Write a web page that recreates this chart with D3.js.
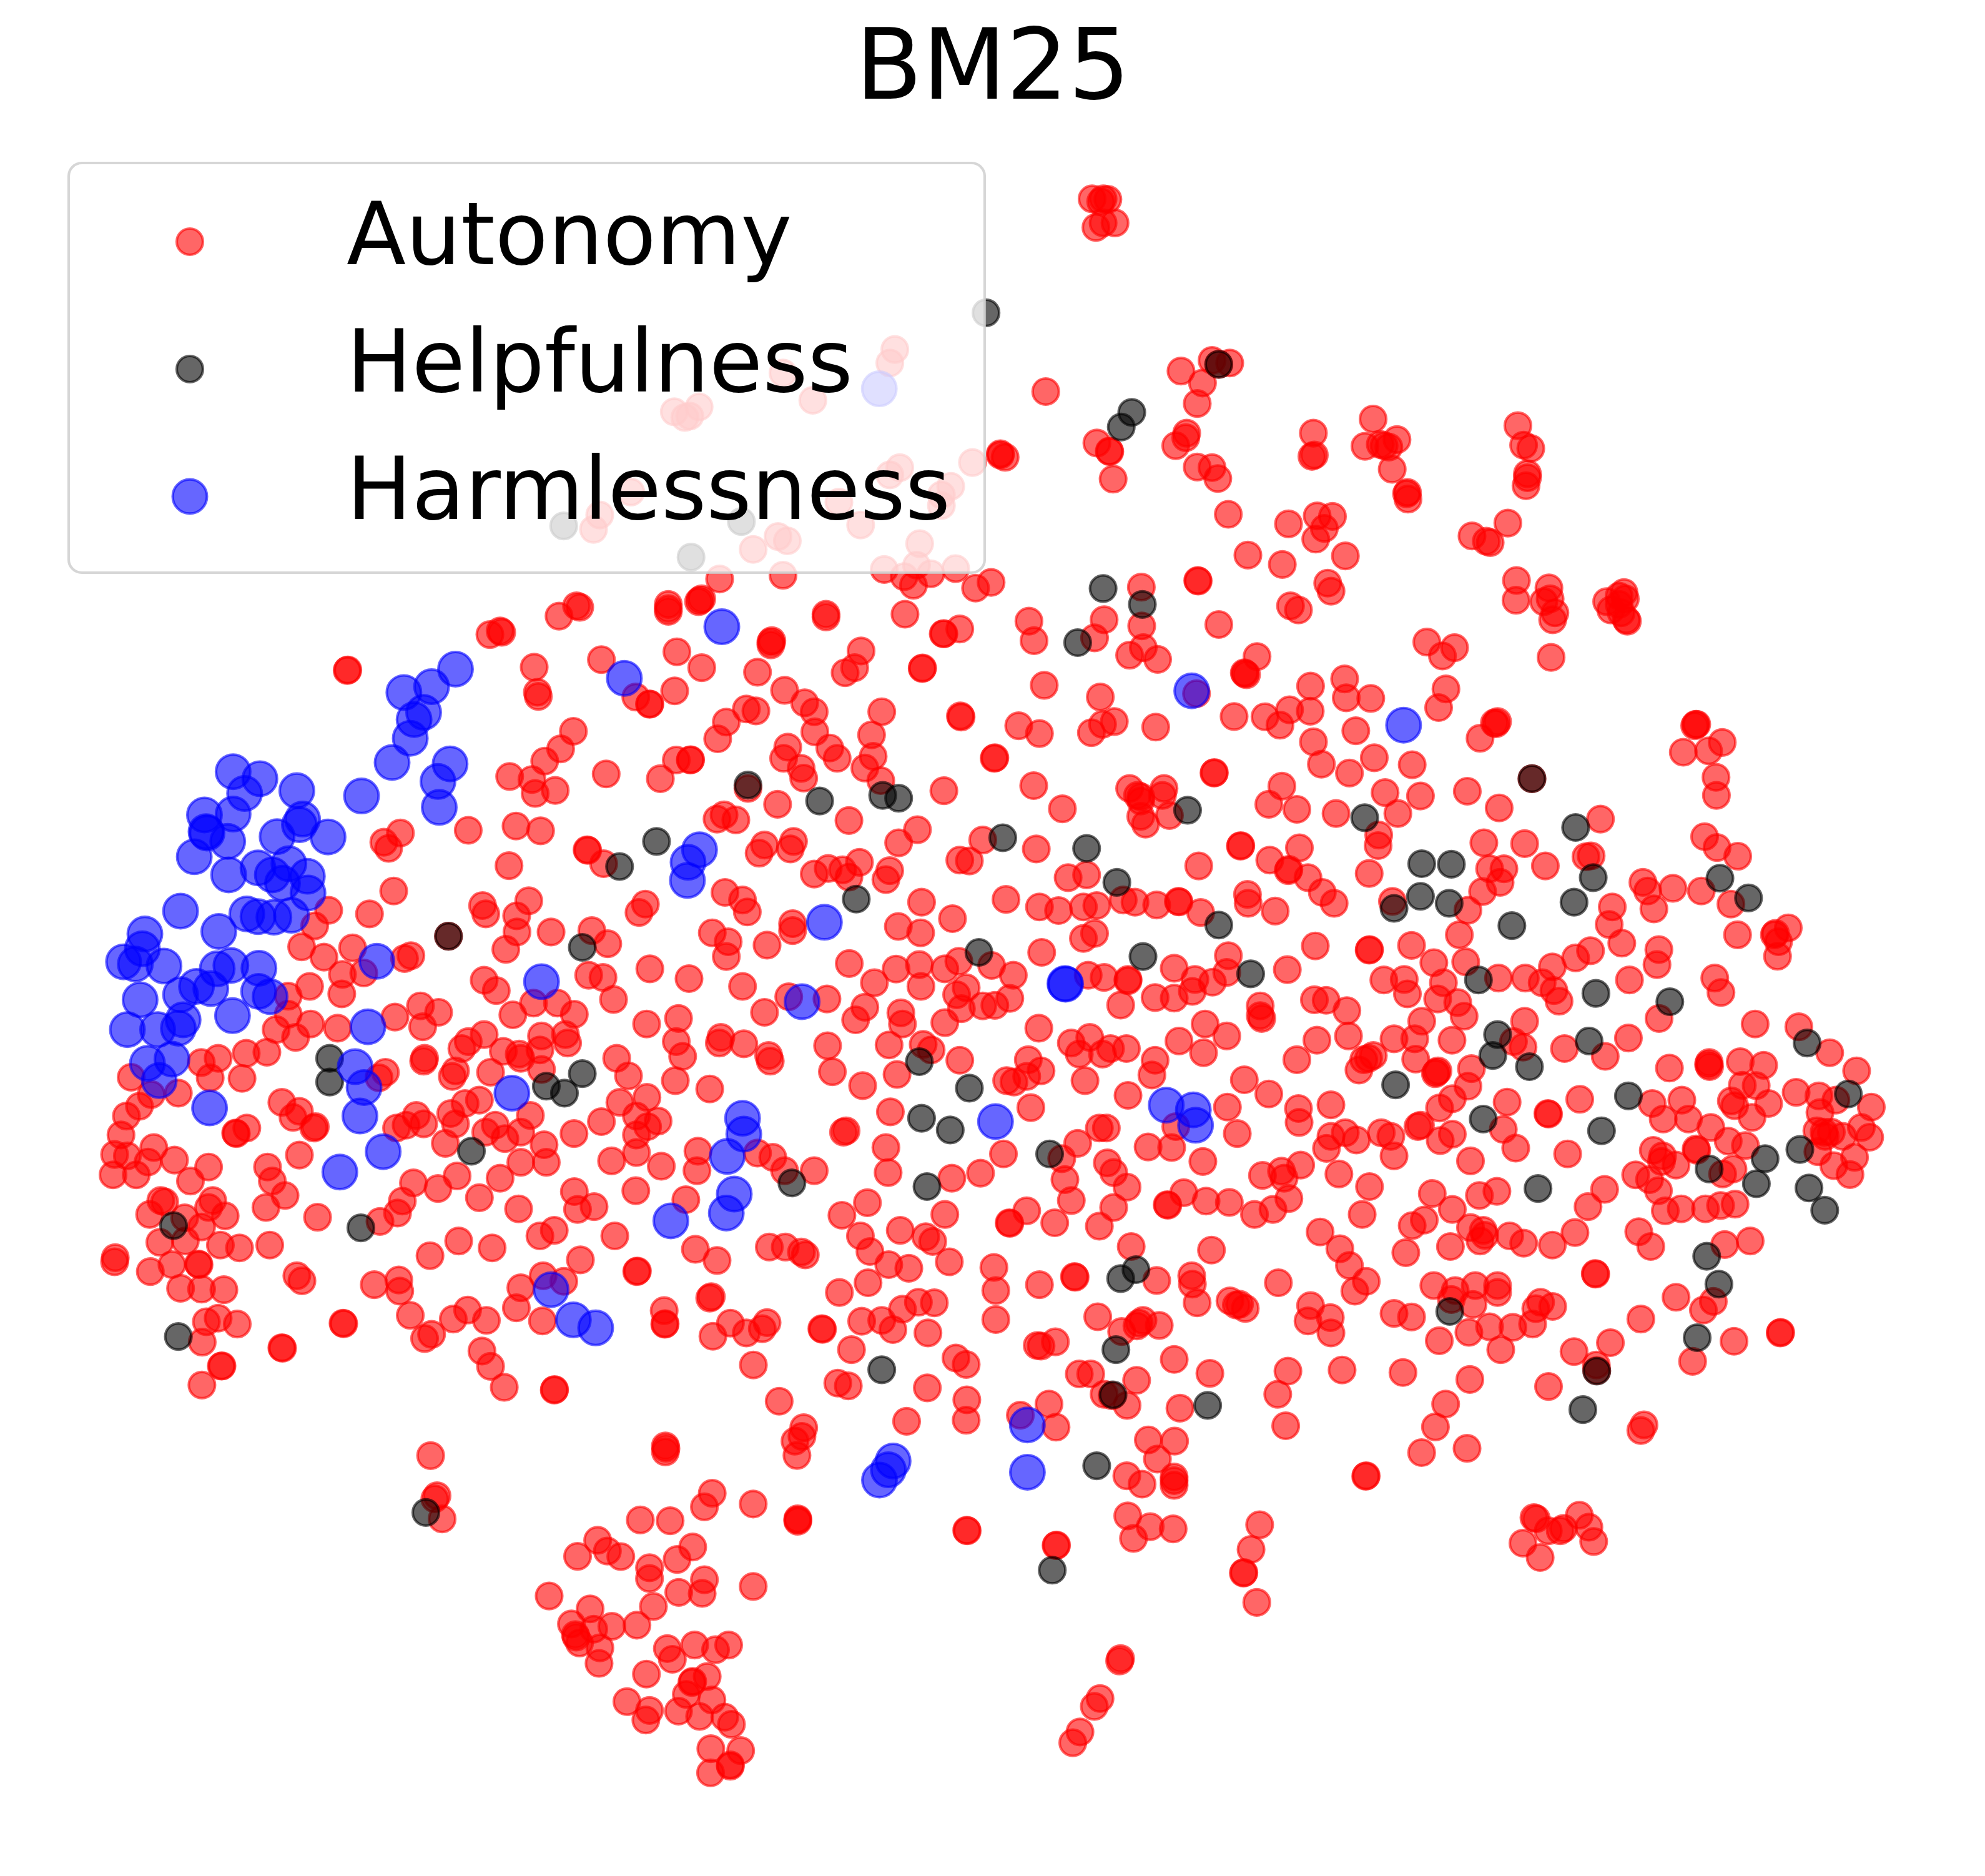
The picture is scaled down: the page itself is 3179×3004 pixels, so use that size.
<!DOCTYPE html>
<html><head><meta charset="utf-8">
<script src="https://cdn.jsdelivr.net/npm/d3@7"></script>
<style>html,body{margin:0;padding:0;background:#fff}svg{display:block}text{font-family:"DejaVu Sans";fill:#000}</style>
</head><body><div id="chart"></div>
<script>
const chartTitle = "BM25";
const seriesNames = ["Autonomy", "Helpfulness", "Harmlessness"];

// Values, sheet by sheet (reading grid 0-1568 on each sheet).
const autonomyA = [[1360,718],[1352,765],[1180,800],[1228,895],[1005,935],[1022,955],[1045,918],[1030,950],[1368,1130],[1352,1155],[1485,1112],[1450,1195],[1435,1225],[1435,1262],[1270,1250],[935,1215],[885,1295],[875,1345],[1305,1330],[1172,1370],[1187,1385],[1132,1415],[1400,1395],[1343,1485],[1375,1510],[1395,1470],[1418,1500],[1458,1482],[1078,1518],[1180,1505],[1390,1540],[1490,1550],[1515,1530]];
const helpfulnessA = [[827,1333],[1113,1318],[1032,1442]];
const harmlessnessA = [[1335,855]];

const autonomyB = [[835,277],[837,275],[1283,148],[1315,135],[1320,140],[1500,82],[1555,45],[1565,50],[1422,265],[1432,355],[1435,370],[1545,495],[1505,558],[1455,602],[1345,657],[1415,668],[1425,718],[1488,707],[1365,835],[1442,852],[1215,850],[1002,860],[950,893],[965,915],[1343,977],[981,1068],[905,1150],[777,1137],[733,1193],[692,1268],[762,1305],[852,1272],[887,1362],[820,1367],[818,1437],[717,1410],[650,1445],[650,1510],[612,1565],[720,1545],[805,1560],[1015,1310],[1035,1300],[1153,1230],[1260,1120],[1270,1150],[1405,1103],[1367,1157],[1368,1215],[1475,1215],[1333,1277],[1265,1388],[1303,1425],[1420,1470],[1495,1470],[1355,1512],[1548,1510],[985,1520],[1065,1480],[1122,1503],[1072,1555]];
const helpfulnessB = [[1153,1230]];
const harmlessnessB = [[1175,272],[1100,335],[1013,356],[1075,427],[1045,453],[1033,520],[976,607],[880,727],[1158,612],[1120,675],[1124,768],[477,640],[561,665],[513,718],[677,708],[477,792],[387,795],[392,855],[395,860],[460,890],[355,945],[695,810],[685,830],[775,874],[615,873],[463,1010],[555,985],[652,970],[600,1010],[632,1040],[710,1015],[712,1075],[520,1150],[555,1160],[605,1162],[660,1155],[312,1140],[432,1213],[200,1222],[192,1275],[133,1322],[170,1330],[260,1337],[427,1347],[470,1335],[558,1345],[362,1410],[407,1418],[312,1440],[185,1458],[557,1428],[593,1447],[475,1515],[145,1565],[240,1565],[305,1560],[320,1530],[928,1320],[1445,1393],[900,1555]];

const autonomyC = [[673,25],[157,168],[220,230],[305,225],[183,272],[142,307],[125,375],[105,445],[145,450],[228,420],[210,472],[293,465],[100,518],[173,518],[400,490],[343,540],[377,115],[430,100],[405,170],[518,82],[583,78],[505,172],[630,258],[685,290],[665,312],[730,350],[735,345],[520,350],[487,370],[485,368],[685,447],[585,490],[600,540],[640,592],[580,635],[742,670],[592,770],[250,610],[262,615],[413,610],[400,635],[215,660],[325,672],[452,665],[378,705],[247,760],[327,755],[437,770],[497,780],[107,815],[105,830],[285,840],[217,865],[370,840],[368,838],[312,925],[378,928],[448,930],[677,880],[693,898],[920,912],[997,895],[1000,935],[1033,1022],[1213,1003],[1168,1035],[1272,1040],[1078,1105],[1100,1090],[1258,1150],[1285,1205],[1328,1280],[1485,1290],[1486,1288],[1097,1525],[822,1050],[824,1052],[632,1140],[630,1138],[442,1203],[440,1204],[379,1272],[393,1045],[430,1032],[490,1053],[380,1118],[938,685],[993,655],[1008,612],[1043,547],[1120,567],[1180,522],[1250,600],[1315,530],[1373,640],[1380,473],[1460,473],[1453,410],[1440,737],[1485,717],[1548,578],[1558,642],[1567,823],[1450,880],[1515,900],[1380,923],[1366,995],[1448,1042],[1185,755],[1290,780],[1095,808],[935,170],[955,150],[1195,65],[1215,40],[1265,15],[1175,145],[1165,165],[1285,150],[1325,75],[1375,85],[1380,100],[1440,70],[1445,140],[1250,250],[1205,262],[1160,298],[1175,335],[1143,405],[1052,305],[1075,335],[990,350],[1020,340],[1270,365],[1300,340],[1330,388],[1380,365],[1410,305],[1547,370],[1078,100],[1075,110],[1445,20],[1520,15],[1527,45],[1117,1669],[1110,1680],[1133,1752]];
const helpfulnessC = [[780,100],[780,185],[290,700],[878,708],[1225,433],[305,1098],[1460,200],[1517,225],[1082,1729]];
const harmlessnessC = [[208,118],[285,103],[245,180],[403,278],[860,130],[888,205],[875,307],[948,435],[812,508],[1352,225],[1475,930],[1545,1038]];

const autonomyD = [[275,40],[275,55],[275,65],[375,25],[380,20],[370,30],[770,75],[770,85],[1018,75],[1138,145],[1140,145],[1190,128],[1407,100],[1423,170],[600,170],[597,185],[597,175],[880,207],[860,267],[830,285],[1072,270],[1073,268],[1455,330],[65,238],[302,210],[380,267],[295,350],[555,283],[173,372],[217,397],[216,398],[640,348],[703,393],[733,425],[735,497],[782,555],[805,592],[945,425],[913,508],[918,585],[892,627],[942,672],[1192,440],[1194,444],[1375,475],[1440,503],[1298,592],[1300,590],[1422,690],[1512,773],[520,415],[550,422],[457,462],[430,522],[300,598],[345,597],[344,598],[80,648],[250,665],[650,552],[637,592],[692,628],[700,663],[525,700],[618,757],[842,815],[1140,708],[428,810],[450,795],[487,813],[20,920],[22,922],[72,970],[577,903],[560,932],[668,890],[658,917],[733,1007],[777,987],[822,992],[875,965],[842,1018],[998,895],[1057,848],[970,995],[958,1027],[1190,957],[1220,960],[1262,885],[1430,917],[1530,1020],[453,1073],[508,1100],[523,1143],[203,1115],[183,1145],[1070,1108],[1335,1098],[1440,1125],[1500,1138],[997,1195],[1067,1218],[1167,1167],[35,1210],[85,1257],[413,1218],[463,1250],[457,1303],[585,1262],[665,1185],[665,1210],[25,1370],[70,1378],[217,1347],[340,1382],[103,1457],[843,1328],[990,1348],[1063,1332],[1143,1347],[1187,1320],[1290,1335],[1358,1370],[1447,1288],[1068,1410],[922,1397],[1180,1440],[1210,1415],[1262,1480],[1300,1478],[1347,1453],[1195,1490],[508,1410],[653,1447],[773,1455],[892,1485],[1005,1505],[1010,1545],[863,1530],[1143,1540],[1438,1560],[577,1503],[307,1525],[207,1545]];
const helpfulnessD = [[1560,177],[525,688],[750,745],[948,725],[998,735],[238,890],[122,980],[865,1097],[1325,877],[1250,1288],[5,1270]];
const harmlessnessD = [[443,120],[137,305],[373,920],[337,965],[335,1030],[765,1180],[695,1465],[1520,1400],[1522,1402]];

const autonomyE = [[300,40],[320,93],[113,100],[150,163],[297,180],[405,210],[435,45],[440,25],[512,48],[590,90],[595,110],[775,55],[790,148],[885,198],[968,52],[993,158],[1075,50],[1100,70],[1190,107],[208,240],[123,258],[175,307],[65,327],[243,325],[210,345],[175,375],[175,438],[97,468],[253,487],[368,433],[365,503],[173,575],[330,607],[972,292],[958,420],[965,510],[833,360],[825,365],[1165,530],[1255,512],[1327,443],[555,440],[603,455],[640,503],[733,503],[1337,180],[1360,185],[1405,105],[1400,165],[1445,145],[1413,277],[1540,45],[1565,85],[1560,405],[1510,460],[1520,535],[1540,610],[42,632],[107,737],[178,863],[176,865],[360,785],[428,825],[592,777],[642,777],[693,795],[705,805],[820,663],[900,618],[878,737],[908,793],[967,840],[1030,853],[902,905],[812,940],[1003,717],[1083,740],[1105,757],[1143,660],[1157,830],[1345,690],[1347,692],[1400,647],[1488,690],[1297,850],[1303,933],[1303,1037],[1440,912],[1550,883],[1552,885],[405,960],[410,955],[262,1005],[265,1052],[264,1054],[470,1050],[415,1097],[520,1085],[570,1070],[585,1048],[757,1070],[759,1072],[542,1200],[882,1043],[945,1040],[1010,1000],[1060,975],[1110,977],[980,1073],[1090,1085],[850,1145],[1178,1175],[1210,1198],[1433,1130],[1445,1132],[1490,1117],[1565,1232],[807,1265],[840,1275],[1088,1282],[1212,1325],[1210,1398],[1023,1402],[1470,1340],[1380,1380],[1492,1423],[623,1330],[700,1425]];
const helpfulnessE = [[5,155],[1063,112],[1220,207],[1070,315],[1160,357],[1472,443],[663,547],[1087,560],[945,1217]];
const harmlessnessE = [[508,315],[512,372],[460,452],[482,587],[457,655],[283,683],[47,1067],[1302,327],[1402,1415]];

const autonomyF = [[247,90],[280,92],[265,100],[270,90],[255,197],[295,180],[270,180],[433,735],[498,695],[535,705],[512,710],[478,780],[467,857],[150,812],[257,1005],[283,1035],[284,1037],[291,1140],[55,1050],[65,1058],[55,1045],[445,968],[443,985],[422,1015],[467,1095],[498,1097],[510,1138],[710,968],[712,1050],[707,1055],[835,915],[885,992],[818,1017],[850,1010],[858,1015],[868,1020],[875,1103],[907,1190],[908,1215],[905,1195],[532,1272],[658,1308],[718,1278],[750,1280],[733,1325],[715,1365],[573,1425],[645,1460],[777,1428],[1138,940],[1150,1013],[1165,1025],[1158,1120],[1158,1135],[1155,1165],[1117,1305],[1042,1353],[1072,1373],[1080,1378],[468,1520],[469,1522],[740,1530],[747,1560],[1135,1520],[1203,1548],[1360,1565],[350,1545]];
const helpfulnessF = [[25,517],[512,710],[330,890],[308,945],[270,1550]];

const autonomyG = [[75,95],[45,160],[193,117],[198,195],[155,222],[243,237],[435,112],[660,45],[685,60],[555,227],[515,285],[522,292],[517,288],[1088,175],[1175,195],[1137,225],[1148,343],[1125,410],[1368,25],[1455,30],[1475,20],[1490,70],[1483,95],[1478,230],[1255,520],[1300,465],[1310,460],[1305,468],[723,333],[830,307],[835,375],[912,377],[722,423],[657,418],[580,443],[627,473],[483,442],[865,493],[732,533],[757,613],[845,645],[923,590],[1042,615],[957,715],[1068,727],[997,790],[1215,710],[1315,770],[63,372],[365,360],[107,460],[70,470],[35,500],[237,480],[420,645],[421,643],[155,700],[263,700],[180,725],[190,730],[258,725],[190,745],[190,800],[205,828],[280,797],[633,692],[592,757],[680,775],[803,790],[937,867],[935,905],[907,1005],[503,907],[504,905],[595,957],[688,913],[655,990],[653,995],[715,1020],[760,1073],[797,1112],[372,978],[525,1080],[527,1112],[612,1140],[20,1010],[52,1120],[10,1125],[135,1100],[172,1108],[240,1118],[308,1105],[310,1107],[378,1145],[980,1105],[1217,1137],[1190,1225],[1267,895],[1395,898],[1460,978],[1285,988],[1330,988],[1318,1037],[1263,1070],[45,1220],[10,1238],[738,1265],[907,1280],[908,1278],[1040,1263],[1110,1325],[1210,1322],[465,1300],[295,1345],[360,1385],[415,1395],[460,1360],[650,1350],[150,1385],[150,1390],[75,1378],[25,1370],[953,1387],[1017,1385],[1027,1437],[1140,1397],[1122,1455],[1185,1468],[1205,1517],[1313,1380],[1397,1380],[1450,1397],[1482,1340],[1555,1308],[1487,1425],[1503,1463],[127,1477],[235,1450],[295,1452],[352,1428],[565,1480],[565,1515],[570,1525],[735,1458],[772,1460],[837,1497],[392,1545],[1072,1535],[1395,1535],[1418,665]];
const helpfulnessG = [[195,40],[337,778],[20,915],[115,1037],[435,1190],[197,1303],[535,1365],[1250,1387],[893,805],[1072,970],[1165,972],[1068,1087],[1158,1112],[985,1130],[1355,1192],[1418,665],[1555,840],[1550,1108]];
const harmlessnessG = [[350,350],[1015,473]];

const autonomyH = [[30,25],[70,85],[95,65],[145,65],[15,180],[235,107],[225,160],[150,233],[310,38],[387,80],[460,20],[515,177],[592,228],[680,105],[743,35],[842,20],[462,275],[493,370],[300,345],[287,420],[213,418],[385,470],[60,350],[82,350],[685,280],[687,330],[787,267],[787,380],[832,367],[867,393],[773,423],[945,367],[975,380],[985,450],[812,515],[908,560],[885,660],[1060,345],[1068,340],[1130,395],[1168,372],[1128,278],[1168,245],[1217,200],[1228,137],[1340,257],[1328,355],[1367,422],[1225,468],[1468,298],[1470,300],[1530,443],[875,142],[890,105],[905,100],[920,90],[985,30],[1050,30],[1053,103],[1118,150],[1115,155],[1123,145],[1167,35],[1390,60],[1360,40],[1520,65],[85,475],[105,510],[147,562],[105,635],[60,702],[273,625],[275,627],[325,582],[395,612],[468,617],[547,660],[605,642],[655,603],[572,520],[632,505],[640,530],[692,483],[160,775],[412,788],[240,897],[350,880],[352,910],[367,977],[470,970],[490,985],[518,997],[500,982],[622,905],[55,1027],[130,1080],[185,1050],[197,1040],[178,1060],[248,1058],[723,987],[785,1030],[715,1042],[787,1085],[753,723],[815,783],[845,843],[898,900],[862,935],[295,1180],[407,1230],[33,1232],[177,1255],[75,1305],[100,1310],[147,1345],[313,1355],[652,1222],[620,1305],[645,1418],[822,1218],[1013,1227],[1223,1252],[1147,1340],[1115,1422],[1470,1277],[1105,585],[1168,642],[1253,592],[1308,577],[1225,707],[1265,717],[1255,755],[1270,735],[1348,737],[1392,763],[1482,770],[1553,725],[1162,775],[1042,700],[1080,680],[1022,797],[1110,915],[1177,933],[1240,915],[1310,915],[1310,940],[1233,983],[985,1015],[1040,1028],[1127,1113],[1220,1083],[1285,1063],[1358,1065],[1420,1053],[1320,1145],[1445,975],[1430,998],[1483,990],[1550,1152],[1165,965]];
const helpfulnessH = [[990,195],[1295,90],[1310,15],[1410,130],[1265,318],[1437,567],[175,858],[127,890],[1160,1008],[112,1145],[103,1307],[400,1345]];
const harmlessnessH = [[270,268],[355,285],[362,340]];

const autonomyI = [[130,30],[150,60],[190,40],[220,20],[225,95],[230,100],[200,70],[190,10],[560,470],[565,470],[555,475],[500,570],[622,565],[688,535],[658,660],[660,725],[100,810],[603,873],[663,912],[763,943],[30,945],[55,942],[305,1037],[328,1068],[358,1132],[450,1058],[587,1068],[730,1115],[157,1125],[142,1188],[203,1255],[52,1282],[382,1278],[373,1332],[240,1387],[762,1225],[940,1225],[945,1220],[1007,1200],[960,1250],[955,1302],[652,1380],[682,1432],[847,1545],[1058,1555],[383,1525]];
const helpfulnessI = [[65,1020],[677,1022],[815,1093],[78,1435],[435,1465]];

const autonomyJ = [[235,27],[123,93],[433,135],[625,115],[627,130],[622,122],[775,112],[888,125],[785,197],[852,198],[912,262],[732,253],[748,270],[832,312],[1045,222],[1155,235],[1237,250],[1207,80],[1337,145],[1408,275],[1160,295],[0,247],[350,262],[493,250],[403,318],[525,318],[633,348],[717,397],[800,413],[1145,360],[1180,365],[1215,365],[1185,380],[1270,380],[1360,348],[1400,383],[1150,435],[1227,485],[1327,455],[1305,517],[355,430],[400,450],[465,483],[395,470],[270,518],[337,535],[380,575],[562,425],[565,430],[690,515],[740,497],[120,570],[40,632],[413,647],[490,640],[607,640],[680,628],[750,623],[285,722],[343,775],[700,768],[823,755],[75,872],[77,874],[465,957],[645,972],[597,1003],[295,1035],[148,1120],[745,1115],[545,1187],[968,1085],[970,1083],[80,1200],[82,1220],[310,1415],[295,1435]];
const helpfulnessJ = [[45,38],[1098,45],[1297,228],[235,235],[105,360],[895,460],[625,497],[853,550],[1063,427],[1107,565],[1183,645],[613,810],[672,910],[567,1102],[82,1222],[15,1360]];

const autonomyK = [[595,40],[597,50],[595,65],[1060,20],[1085,0],[1067,80],[763,238],[735,295],[910,283],[1070,345],[1070,355],[1070,350],[505,350],[612,353],[352,435],[387,480],[280,502],[435,503],[693,463],[637,515],[538,550],[538,595],[735,600],[643,653],[727,657],[910,628],[178,668],[552,712],[325,722],[258,785],[338,807],[403,795],[493,790],[272,830],[275,840],[287,865],[360,885],[357,950],[602,888],[620,933],[700,873],[775,893],[822,873],[527,995],[745,1005],[693,1025],[690,1030],[670,1080],[762,1103],[457,1110],[538,1147],[525,1187],[642,1150],[718,1172],[808,1175],[832,1205],[758,1307],[865,1315],[757,1408],[828,1375],[828,1380]];
const harmlessnessK = [[1412,103],[1395,140],[1363,183]];

const autonomyL = [[443,15],[498,20],[462,95],[398,165],[430,200],[497,170],[497,205],[497,185],[1015,68],[1110,50],[898,167],[899,165],[63,393],[64,395],[250,457],[251,455],[400,333],[447,378],[495,387],[412,427],[676,370],[658,473],[642,572],[643,570],[670,695],[1250,340],[1255,345],[1345,330],[1280,395],[1305,395],[1312,385],[1365,380],[1375,440],[1227,447],[1263,507],[385,930],[383,940],[342,1097],[330,1130],[300,1237],[285,1282]];
const helpfulnessL = [[335,123],[242,560]];
const harmlessnessL = [[190,150]];

// Which part of the plotting field each sheet of readings covers.
const sheets = [
  {left:80,  top:230,  w:1560, h:720, pts:[autonomyA, helpfulnessA, harmlessnessA]},
  {left:130, top:950,  w:800,  h:700, pts:[autonomyB, helpfulnessB, harmlessnessB]},
  {left:130, top:1650, w:800,  h:700, pts:[autonomyC, helpfulnessC, harmlessnessC]},
  {left:930, top:950,  w:800,  h:700, pts:[autonomyD, helpfulnessD, harmlessnessD]},
  {left:930, top:1650, w:800,  h:700, pts:[autonomyE, helpfulnessE, harmlessnessE]},
  {left:1560,top:280,  w:1200, h:670, pts:[autonomyF, helpfulnessF, []]},
  {left:1730,top:950,  w:800,  h:700, pts:[autonomyG, helpfulnessG, harmlessnessG]},
  {left:1730,top:1650, w:800,  h:700, pts:[autonomyH, helpfulnessH, harmlessnessH]},
  {left:2530,top:950,  w:520,  h:700, pts:[autonomyI, helpfulnessI, []]},
  {left:2530,top:1650, w:520,  h:700, pts:[autonomyJ, helpfulnessJ, []]},
  {left:800, top:2300, w:700,  h:600, pts:[autonomyK, [], harmlessnessK]},
  {left:1500,top:2300, w:1200, h:600, pts:[autonomyL, helpfulnessL, harmlessnessL]}
];

const W = 3179, H = 3004, GRID = 1568, SW = 4.17;
const colors = ["#ff0000", "#000000", "#0000ff"];
const radii = [21, 21, 27.4];

const svg = d3.select("#chart").append("svg").attr("width", W).attr("height", H).attr("viewBox", `0 0 ${W} ${H}`);

const dot = (sel, i) => sel.attr("r", radii[i]).attr("fill", colors[i]).attr("stroke", colors[i])
  .attr("fill-opacity", 0.6).attr("stroke-opacity", 0.6).attr("stroke-width", SW);

seriesNames.forEach((name, i) => {
  const rows = sheets.flatMap(s => {
    const x = d3.scaleLinear().domain([0, GRID]).range([s.left, s.left + s.w]);
    const y = d3.scaleLinear().domain([0, GRID]).range([s.top, s.top + s.h]);
    return s.pts[i].map(p => [x(p[0]), y(p[1])]);
  });
  svg.append("g").attr("class", name).selectAll("circle").data(rows).join("circle")
    .attr("cx", d => d[0]).attr("cy", d => d[1]).call(dot, i);
});

svg.append("text").attr("x", 1590).attr("y", 158).attr("text-anchor", "middle").attr("font-size", 156).text(chartTitle);

const legend = svg.append("g");
legend.append("rect").attr("x", 110).attr("y", 261).attr("width", 1467).attr("height", 656).attr("rx", 21).attr("ry", 21)
  .attr("fill", "#fff").attr("fill-opacity", 0.8).attr("stroke", "#ccc").attr("stroke-opacity", 0.8).attr("stroke-width", SW);
const legendY = d3.scalePoint().domain(seriesNames).range([387, 795]);
seriesNames.forEach((name, i) => {
  legend.append("circle").attr("cx", 304).attr("cy", legendY(name)).call(dot, i);
  legend.append("text").attr("x", 555).attr("y", legendY(name) + 36).attr("font-size", 139).text(name);
});
</script></body></html>
